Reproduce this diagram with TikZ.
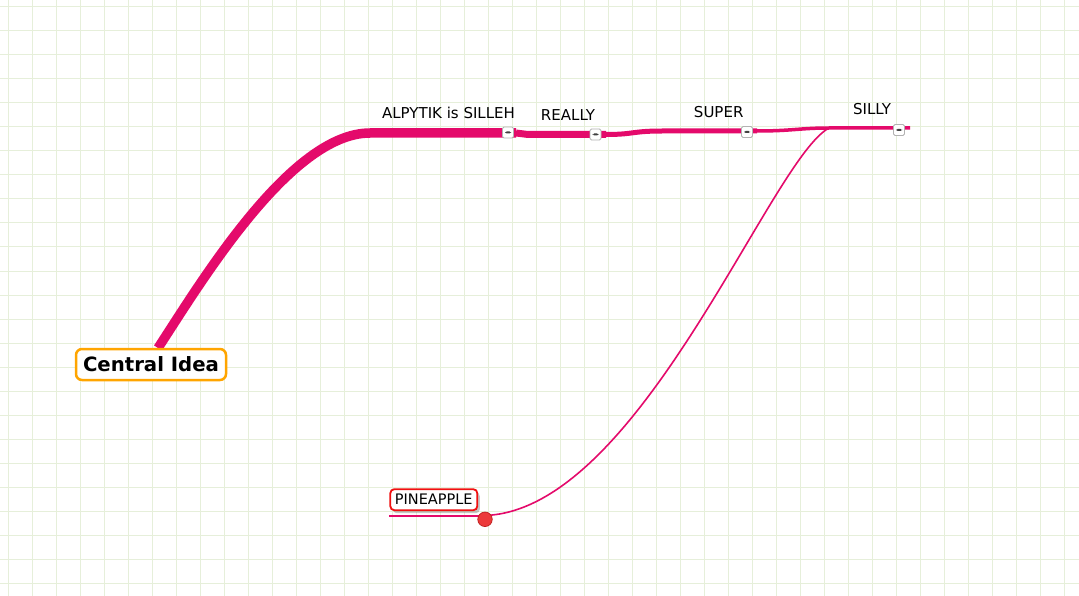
\documentclass[tikz,border=0pt]{standalone}
\usepackage{fontspec}
\setmainfont{DejaVu Sans}
\usetikzlibrary{shadows}
\definecolor{gridc}{RGB}{230,239,218}
\definecolor{pinkc}{RGB}{228,10,107}
\definecolor{orangec}{RGB}{255,165,0}
\definecolor{redc}{RGB}{240,16,16}
\definecolor{dotc}{RGB}{236,58,58}
\definecolor{dotb}{RGB}{190,30,30}
\tikzset{
  lbl/.style={anchor=base, inner sep=0pt, font=\fontsize{15}{18}\selectfont},
  conn/.style={draw=pinkc, line cap=butt, line join=round},
  minusbox/.style={draw=black!30, fill=white, rounded corners=1.5pt, minimum size=11pt,
    inner sep=0pt, line width=0.8pt,
    path picture={\fill[black!75] ([xshift=-3pt,yshift=-1pt]path picture bounding box.center)
      rectangle ([xshift=3pt,yshift=1pt]path picture bounding box.center);}},
  central/.style={draw=orangec, fill=white, line width=2.5pt, rounded corners=6pt,
    minimum width=150pt, minimum height=31pt, inner sep=0pt,
    font=\bfseries\fontsize{19.7}{22}\selectfont},
  pinebox/.style={draw=redc, fill=white, line width=1.8pt, rounded corners=4pt,
    minimum width=87pt, minimum height=21pt, inner sep=0pt,
    font=\fontsize{14.5}{17}\selectfont,
    drop shadow={shadow xshift=2.5pt, shadow yshift=-3pt, opacity=0.4, fill=black!55}},
  dot/.style={circle, fill=dotc, draw=dotb, line width=0.7pt, minimum size=14.5pt, inner sep=0pt},
}
\begin{document}
\begin{tikzpicture}[x=1pt,y=-1pt]
\useasboundingbox (0,0) rectangle (1079,596);
\fill[white] (0,0) rectangle (1079,596);
% grid
\foreach \x in {8,32,...,1064} \draw[gridc, line width=1pt] (\x,0) -- (\x,596);
\foreach \y in {7,31,...,583} \draw[gridc, line width=1pt] (0,\y) -- (1079,\y);

% anchor coordinates
\coordinate (c0) at (158,348);
\coordinate (a0) at (370,133);
\coordinate (a1) at (516,133);
\coordinate (r0) at (528,134.5);
\coordinate (r1) at (606,134.5);
\coordinate (s0) at (662,131);
\coordinate (s1) at (757,131);
\coordinate (y0) at (829,128);
\coordinate (y1) at (910,128);
\coordinate (p1) at (485,515.5);
\coordinate (p0) at (389,515.5);

% connectors
\draw[conn, line width=9.5pt] (c0) .. controls (200,284) and (290,133) .. (a0) -- (a1);
\draw[conn, line width=7pt] (a1) .. controls (522,133) and (522,134.5) .. (r0) -- (r1);
\draw[conn, line width=5pt] (r1) .. controls (634,134.5) and (632,131) .. (s0) -- (s1);
\draw[conn, line width=3.5pt] (s1) .. controls (792,131) and (800,128) .. (y0) -- (y1);
\draw[conn, line width=1.6pt] (y0) .. controls (770,160) and (640,510) .. (p1);
\draw[conn, line width=2pt] (p0) -- (p1);

% minus boxes
\node[minusbox] (m1) at (508,132.5) {};
\node[minusbox] (m2) at (595.5,134.5) {};
\node[minusbox] (m3) at (747,132) {};
\node[minusbox] (m4) at (899,130) {};

% labels
\node[lbl] (nA) at (448.5,118.3) {ALPYTIK is SILLEH};
\node[lbl] (nR) at (568,120.7) {REALLY};
\node[lbl] (nS) at (718.7,117.7) {SUPER};
\node[lbl] (nY) at (872,114.3) {SILLY};

% central idea
\node[central] (ci) at (151,364.5) {Central Idea};

% pineapple
\node[pinebox] (pine) at (433.8,499.7) {PINEAPPLE};
\node[dot] (pdot) at (485,519.3) {};
\end{tikzpicture}
\end{document}
